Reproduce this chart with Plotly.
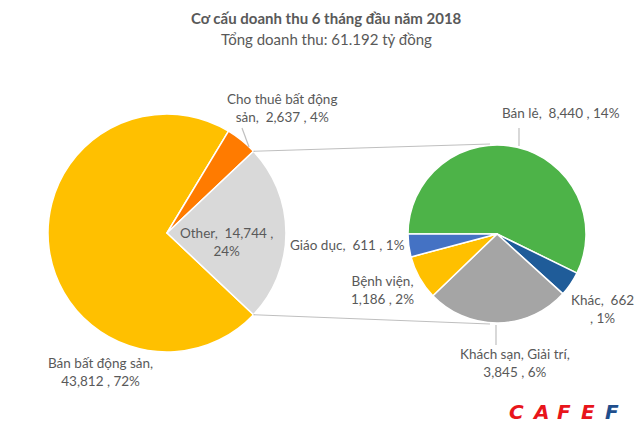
import plotly.graph_objects as go
import math

W, H = 640, 426

# main pie
main_labels = ["Bán bất động sản", "Cho thuê bất động sản", "Other"]
main_values = [43812, 2637, 14744]
main_pct = ["72%", "4%", "24%"]
main_colors = ["#FFC000", "#FF7B00", "#D9D9D9"]

# breakdown of "Other"
sub_labels = ["Bán lẻ", "Khác", "Khách sạn, Giải trí", "Bệnh viện", "Giáo dục"]
sub_values = [8440, 662, 3845, 1186, 611]
sub_pct = ["14%", "1%", "6%", "2%", "1%"]
sub_colors = ["#4DB348", "#1F5C99", "#A5A5A5", "#FFC000", "#4472C4"]

FONT = "Lato"
GREY = "#595959"


def px2paper(x, y):
    return x / W, 1 - y / H


# geometry (pixels)
L_CX, L_CY, L_R = 167, 233, 119
R_CX, R_CY, R_R = 497, 234, 89

# rotate main pie so "Other" is centred at 3 o'clock
other_deg = main_values[2] / sum(main_values) * 360
main_rot = 90 + other_deg / 2

fig = go.Figure()

fig.add_trace(go.Pie(
    labels=main_labels, values=main_values, sort=False, direction="clockwise",
    rotation=main_rot, textinfo="none", hoverinfo="label+value+percent",
    marker=dict(colors=main_colors, line=dict(color="white", width=1.5)),
    domain=dict(x=[(L_CX - L_R) / W, (L_CX + L_R) / W],
                y=[1 - (L_CY + L_R) / H, 1 - (L_CY - L_R) / H]),
    showlegend=False,
))

fig.add_trace(go.Pie(
    labels=sub_labels, values=sub_values, sort=False, direction="clockwise",
    rotation=270, textinfo="none", hoverinfo="label+value+percent",
    marker=dict(colors=sub_colors, line=dict(color="white", width=1.5)),
    domain=dict(x=[(R_CX - R_R) / W, (R_CX + R_R) / W],
                y=[1 - (R_CY + R_R) / H, 1 - (R_CY - R_R) / H]),
    showlegend=False,
))

# connector lines from edges of "Other" to the top/bottom of the second pie
a1 = math.radians(90 - other_deg / 2)
a2 = math.radians(90 + other_deg / 2)
p_top = (L_CX + L_R * math.sin(a1), L_CY - L_R * math.cos(a1))
p_bot = (L_CX + L_R * math.sin(a2), L_CY - L_R * math.cos(a2))
lines = [
    (p_top, (R_CX - 7, R_CY - R_R - 1)),
    (p_bot, (R_CX - 7, R_CY + R_R + 1)),
    ((242, 128), (249, 147)),      # leader Cho thuê
    ((519, 128), (519, 146)),      # leader Bán lẻ
    ((496, 325), (496, 345)),      # leader Khách sạn
]
for (x0, y0), (x1, y1) in lines:
    fx0, fy0 = px2paper(x0, y0)
    fx1, fy1 = px2paper(x1, y1)
    fig.add_shape(type="line", xref="paper", yref="paper",
                  x0=fx0, y0=fy0, x1=fx1, y1=fy1,
                  line=dict(color="#BFBFBF", width=1.2))


def fmt(v):
    return f"{v:,}"


labels = [
    (282, 108, "Cho thuê bất động<br>sản,  " + fmt(main_values[1]) + " , " + main_pct[1]),
    (226, 242, "Other,  " + fmt(main_values[2]) + " ,<br>" + main_pct[2]),
    (100, 372, main_labels[0] + ",<br>" + fmt(main_values[0]) + " , " + main_pct[0]),
    (561, 113, sub_labels[0] + ",  " + fmt(sub_values[0]) + " , " + sub_pct[0]),
    (602, 309, sub_labels[1] + ",  " + fmt(sub_values[1]) + "<br>, " + sub_pct[1]),
    (515, 363, sub_labels[2] + ",<br>" + fmt(sub_values[2]) + " , " + sub_pct[2]),
    (382, 290, sub_labels[3] + ",<br>" + fmt(sub_values[3]) + " , " + sub_pct[3]),
    (347, 245, sub_labels[4] + ",  " + fmt(sub_values[4]) + " , " + sub_pct[4]),
]
for x, y, t in labels:
    fx, fy = px2paper(x, y)
    fig.add_annotation(x=fx, y=fy, xref="paper", yref="paper", text=t,
                       xanchor="center", yanchor="middle",
                       showarrow=False, align="center",
                       font=dict(family=FONT, size=13.5, color=GREY))

# titles
fx, fy = px2paper(326, 18)
fig.add_annotation(x=fx, y=fy, xref="paper", yref="paper",
                   xanchor="center", yanchor="middle",
                   text="<b>Cơ cấu doanh thu 6 tháng đầu năm 2018</b>",
                   showarrow=False, font=dict(family=FONT, size=15, color=GREY))
fx, fy = px2paper(326, 39)
fig.add_annotation(x=fx, y=fy, xref="paper", yref="paper",
                   xanchor="center", yanchor="middle",
                   text="Tổng doanh thu: 61.192 tỷ đồng",
                   showarrow=False, font=dict(family=FONT, size=15, color=GREY))

# CAFEF logo
for i, (ch, col) in enumerate(zip("CAFEF", ["#E8151B"] * 4 + ["#1F4E8C"])):
    fx, fy = px2paper(516 + i * 24, 412)
    fig.add_annotation(x=fx, y=fy, xref="paper", yref="paper",
                       xanchor="center", yanchor="middle",
                       text=f"<b><i>{ch}</i></b>", showarrow=False,
                       font=dict(family="DejaVu Sans", size=20, color=col))

fig.update_layout(width=W, height=H, margin=dict(l=0, r=0, t=0, b=0),
                  paper_bgcolor="white", plot_bgcolor="white")

fig.write_html("out.html", config={"displayModeBar": False},
               post_script="document.body.style.margin='0';document.body.style.padding='0';")
